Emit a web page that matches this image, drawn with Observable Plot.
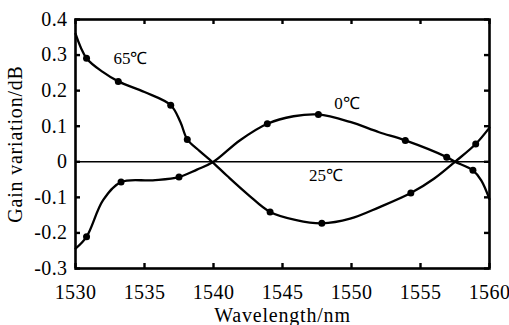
<!DOCTYPE html>
<html>
<head>
<meta charset="utf-8">
<script src="https://cdn.jsdelivr.net/npm/d3@7"></script>
<script src="https://cdn.jsdelivr.net/npm/@observablehq/plot@0.6"></script>
<style>
  html, body { margin: 0; padding: 0; background: white; }
  #chart svg { display: block; }
</style>
</head>
<body>
<div id="chart"></div>
<script>
// ---- data ----
const xTicks = [1530, 1535, 1540, 1545, 1550, 1555, 1560];
const yTicks = [0.4, 0.3, 0.2, 0.1, 0, -0.1, -0.2, -0.3];
const yTickLabels = ["0.4", "0.3", "0.2", "0.1", "0", "-0.1", "-0.2", "-0.3"];
const xDomain = [1530, 1560];
const yDomain = [-0.3, 0.4];

// 65℃ curve
const wl65 = [1530, 1530.8, 1532, 1533.1, 1535, 1536.9, 1537.6, 1538.1, 1539, 1539.9, 1541, 1542.5, 1544.1, 1546, 1547.85, 1549.9, 1552, 1554.3, 1556, 1557.5, 1559.0, 1560];
const gain65 = [0.36, 0.291, 0.252, 0.226, 0.196, 0.159, 0.112, 0.063, 0.03, 0, -0.04, -0.092, -0.141, -0.164, -0.173, -0.16, -0.128, -0.088, -0.047, 0, 0.05, 0.096];
const mark65wl = [1530.8, 1533.1, 1536.9, 1538.1, 1544.1, 1547.85, 1554.3, 1559.0];
const mark65gain = [0.291, 0.226, 0.159, 0.063, -0.141, -0.173, -0.088, 0.05];

// 0℃ curve
const wl0 = [1530, 1530.8, 1532, 1533.3, 1535.6, 1537.5, 1538.8, 1540, 1541.9, 1543.9, 1545.8, 1547.6, 1549.9, 1552, 1553.9, 1556.9, 1557.5, 1558.8, 1559.4, 1560];
const gain0 = [-0.244, -0.211, -0.108, -0.057, -0.052, -0.043, -0.022, 0, 0.06, 0.107, 0.128, 0.133, 0.112, 0.083, 0.06, 0.013, 0, -0.024, -0.052, -0.105];
const mark0wl = [1530.8, 1533.3, 1537.5, 1543.9, 1547.6, 1553.9, 1556.9, 1558.8];
const mark0gain = [-0.211, -0.057, -0.043, 0.107, 0.133, 0.06, 0.013, -0.024];

// 25℃ reference (zero line)
const ref25 = [0];

// curve labels
const labelText = ["65℃", "0℃", "25℃"];
const labelWl = [1533.98, 1549.67, 1548.15];
const labelGain = [0.29, 0.164, -0.038];

// ---- build tables ----
const lines = [
  ...wl65.map((x, i) => ({series: "65", x, y: gain65[i]})),
  ...wl0.map((x, i) => ({series: "0", x, y: gain0[i]}))
];
const markers = [
  ...mark65wl.map((x, i) => ({x, y: mark65gain[i]})),
  ...mark0wl.map((x, i) => ({x, y: mark0gain[i]}))
];
const labels = labelText.map((t, i) => ({t, x: labelWl[i], y: labelGain[i]}));

const font = "'Liberation Serif', 'Times New Roman', serif";
const W = 509, H = 325, ML = 75, MR = 20, MT = 19, MB = 57;
const PW = W - ML - MR, PH = H - MT - MB;
const T = 5; // inward tick length in px
const tx = T * (xDomain[1] - xDomain[0]) / PW; // same length in x units
const ty = T * (yDomain[1] - yDomain[0]) / PH; // same length in y units

const chart = Plot.plot({
  width: W,
  height: H,
  marginLeft: ML,
  marginRight: MR,
  marginTop: MT,
  marginBottom: MB,
  style: {fontFamily: font, fontSize: "17px", background: "white", color: "black", overflow: "visible"},
  x: {domain: xDomain},
  y: {domain: yDomain},
  marks: [
    Plot.ruleY(ref25, {strokeWidth: 1.6, stroke: "black"}),
    Plot.line(lines, {x: "x", y: "y", z: "series", curve: "catmull-rom", stroke: "black", strokeWidth: 2.3}),
    Plot.dot(markers, {x: "x", y: "y", r: 3.5, fill: "black", stroke: "none"}),
    Plot.text(labels, {x: "x", y: "y", text: "t", fontSize: 17, fill: "black"}),
    // tick labels
    Plot.axisX(xTicks, {anchor: "bottom", tickSize: 0, tickPadding: 16, fontSize: 17, tickFormat: (d) => String(d), label: "Wavelength/nm", labelAnchor: "center", labelOffset: 53, labelArrow: false}),
    Plot.axisY(yTicks, {anchor: "left", tickSize: 0, tickPadding: 8, fontSize: 17, tickFormat: (d) => yTickLabels[yTicks.indexOf(d)], label: "Gain variation/dB", labelAnchor: "center", labelOffset: 68, labelArrow: false}),
    // inward ticks on all four sides
    Plot.ruleX(xTicks, {x: (d) => d, y1: yDomain[0], y2: yDomain[0] + ty, stroke: "black", strokeWidth: 2.4}),
    Plot.ruleX(xTicks, {x: (d) => d, y1: yDomain[1] - ty, y2: yDomain[1], stroke: "black", strokeWidth: 2.4}),
    Plot.ruleY(yTicks, {y: (d) => d, x1: xDomain[0], x2: xDomain[0] + tx, stroke: "black", strokeWidth: 2.4}),
    Plot.ruleY(yTicks, {y: (d) => d, x1: xDomain[1] - tx, x2: xDomain[1], stroke: "black", strokeWidth: 2.4}),
    Plot.frame({stroke: "black", strokeWidth: 2.6})
  ]
});

// axis titles are larger in the reference
d3.select(chart).selectAll("[aria-label$='label'] text").attr("font-size", 20).attr("letter-spacing", 0.8);
d3.select(chart).selectAll("[aria-label$='tick label'] text").attr("letter-spacing", 0.4);
document.getElementById("chart").appendChild(chart);
</script>
</body>
</html>
